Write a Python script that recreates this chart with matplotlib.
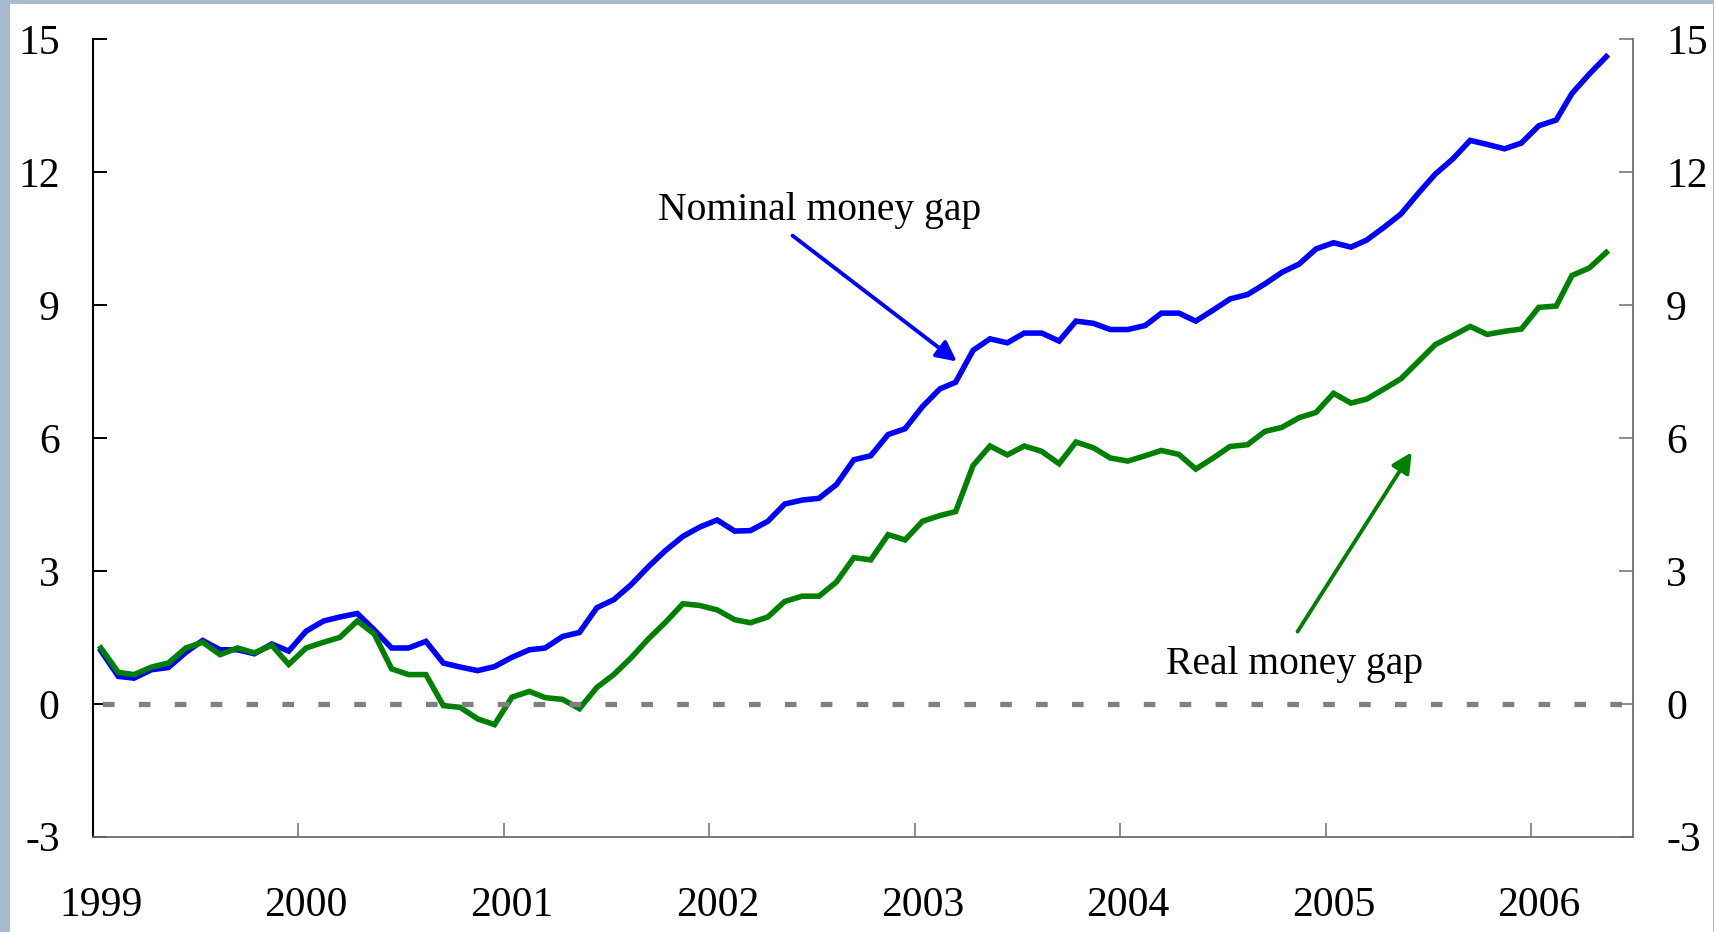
import matplotlib.pyplot as plt
import matplotlib.dates as mdates
import matplotlib.transforms as mtransforms
import numpy as np
import pandas as pd

# monthly observations, Jan 1999 - May 2006 (plotted mid-month)
months = pd.date_range('1999-01-01', periods=89, freq='MS') + pd.Timedelta(days=14)

nominal_gap = [1.20, 0.62, 0.58, 0.77, 0.82, 1.16, 1.43, 1.22, 1.22, 1.13, 1.35, 1.19,
               1.64, 1.87, 1.96, 2.04, 1.67, 1.26, 1.26, 1.41, 0.92, 0.83, 0.75, 0.84,
               1.05, 1.22, 1.26, 1.52, 1.61, 2.17, 2.35, 2.69, 3.10, 3.46, 3.78, 3.99,
               4.15, 3.90, 3.91, 4.12, 4.51, 4.60, 4.64, 4.95, 5.51, 5.60, 6.08, 6.21,
               6.71, 7.11, 7.26, 7.98, 8.24, 8.15, 8.37, 8.37, 8.19, 8.64, 8.59, 8.45,
               8.45, 8.54, 8.82, 8.82, 8.64, 8.89, 9.14, 9.24, 9.48, 9.74, 9.93, 10.27,
               10.41, 10.31, 10.47, 10.76, 11.06, 11.53, 11.96, 12.30, 12.72, 12.63, 12.53, 12.66,
               13.05, 13.18, 13.78, 14.22, 14.61]

real_gap = [1.26, 0.71, 0.66, 0.83, 0.92, 1.26, 1.39, 1.11, 1.26, 1.15, 1.32, 0.89,
            1.26, 1.39, 1.50, 1.87, 1.58, 0.79, 0.66, 0.66, -0.04, -0.08, -0.34, -0.47,
            0.15, 0.28, 0.14, 0.10, -0.11, 0.37, 0.66, 1.04, 1.47, 1.84, 2.26, 2.22,
            2.12, 1.90, 1.83, 1.96, 2.31, 2.43, 2.43, 2.75, 3.30, 3.25, 3.82, 3.70,
            4.12, 4.25, 4.34, 5.38, 5.82, 5.62, 5.82, 5.70, 5.42, 5.91, 5.78, 5.55,
            5.48, 5.60, 5.72, 5.63, 5.30, 5.55, 5.81, 5.85, 6.15, 6.24, 6.46, 6.58,
            7.01, 6.79, 6.88, 7.11, 7.34, 7.73, 8.11, 8.31, 8.52, 8.34, 8.41, 8.46,
            8.95, 8.98, 9.67, 9.84, 10.19]

y_ticks = [-3, 0, 3, 6, 9, 12, 15]

plt.rcParams['font.family'] = ['Liberation Serif', 'DejaVu Serif']
plt.rcParams['axes.unicode_minus'] = False

fig = plt.figure(figsize=(17.15, 9.32), dpi=100, facecolor='#a7b9cc')
# white panel inside the light blue frame
fig.patches.append(plt.Rectangle((10 / 1715, 0), (1713 - 10) / 1715, (932 - 4) / 932,
                                 transform=fig.transFigure, facecolor='white',
                                 edgecolor='none', zorder=-10))

ax = fig.add_axes([93 / 1715, 1 - 836.7 / 932, (1632.7 - 93) / 1715, (836.7 - 39.4) / 932])
ax.set_facecolor('none')

ax.plot(months, nominal_gap, color='#0000ff', lw=4.0, solid_joinstyle='miter', zorder=3)
ax.plot(months, real_gap, color='#008000', lw=4.0, solid_joinstyle='miter', zorder=4)
ax.axhline(0, color='#808080', lw=3.8, linestyle=(5.0, (2.2, 4.6)),
           dash_capstyle='butt', zorder=5)

ax.set_xlim(pd.Timestamp('1999-01-01'), pd.Timestamp('2006-07-01'))
ax.set_ylim(-3, 15)
ax.set_yticks(y_ticks)
ax.xaxis.set_major_locator(mdates.YearLocator())
ax.xaxis.set_major_formatter(mdates.DateFormatter('%Y'))

ax.spines['top'].set_visible(False)
ax.spines['right'].set_visible(False)
ax.spines['left'].set_color('black')
ax.spines['left'].set_linewidth(1.5)
ax.spines['bottom'].set_color('#6e6e6e')
ax.spines['bottom'].set_linewidth(1.3)

ax.tick_params(axis='y', direction='in', length=10, width=1.4, color='black',
               labelsize=30, pad=24)
ax.tick_params(axis='x', direction='in', length=10, width=1.1, color='#6e6e6e',
               labelsize=30, pad=36)
shift = mtransforms.ScaledTranslation(8 / 100, 0, fig.dpi_scale_trans)
for lab in ax.get_xticklabels():
    lab.set_transform(lab.get_transform() + shift)

ax2 = ax.twinx()
ax2.set_ylim(-3, 15)
ax2.set_yticks(y_ticks)
for side in ['top', 'left', 'bottom']:
    ax2.spines[side].set_visible(False)
ax2.spines['right'].set_color('#6e6e6e')
ax2.spines['right'].set_linewidth(1.3)
ax2.tick_params(axis='y', direction='in', length=10, width=1.1, color='#6e6e6e',
                labelsize=30, pad=24)

# annotations
ax.text(pd.Timestamp('2002-07-16'), 11.14, 'Nominal money gap', fontsize=28.5,
        ha='center', va='center', zorder=6)
ax.annotate('', xy=(pd.Timestamp('2003-03-17'), 7.73),
            xytext=(pd.Timestamp('2002-05-29'), 10.57),
            arrowprops=dict(arrowstyle='-|>', color='#0000ff', lw=2.8,
                            mutation_scale=30, shrinkA=0, shrinkB=0))

ax.text(pd.Timestamp('2004-11-06'), 0.89, 'Real money gap', fontsize=28.5,
        ha='center', va='center', zorder=6)
ax.annotate('', xy=(pd.Timestamp('2005-06-03'), 5.68),
            xytext=(pd.Timestamp('2004-11-12'), 1.63),
            arrowprops=dict(arrowstyle='-|>', color='#008000', lw=2.8,
                            mutation_scale=30, shrinkA=0, shrinkB=0))

fig.savefig('out.png', dpi=100, facecolor=fig.get_facecolor())
